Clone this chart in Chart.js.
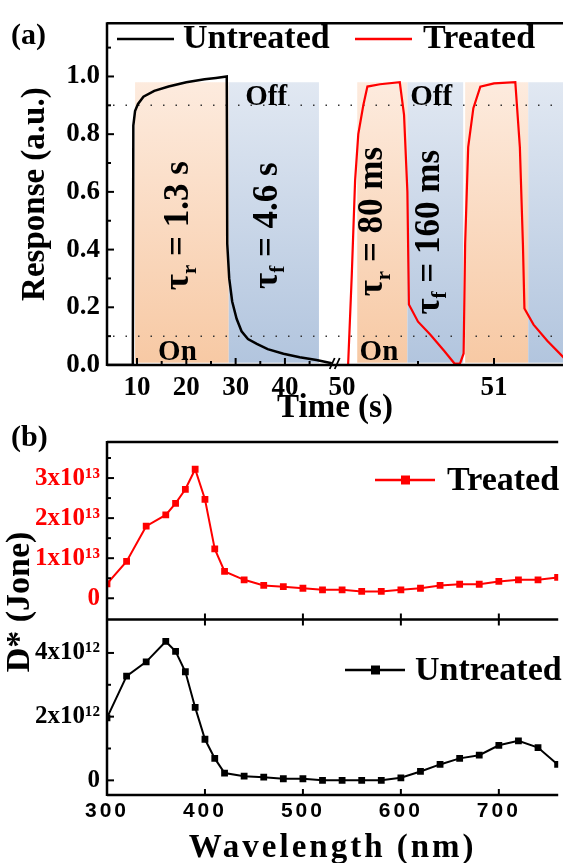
<!DOCTYPE html>
<html>
<head>
<meta charset="utf-8">
<script src="https://cdn.jsdelivr.net/npm/chart.js@4.4.1/dist/chart.umd.min.js"></script>
<style>
  html, body { margin: 0; padding: 0; background: #fff; }
  body { width: 563px; height: 863px; position: relative; overflow: hidden; }
  canvas { position: absolute; left: 0; }
  #chartA { top: 0; }
  #chartB { top: 420px; }
</style>
</head>
<body>
<canvas id="chartA" width="563" height="428"></canvas>
<canvas id="chartB" width="563" height="448"></canvas>
<script>
const SERIF = "'Liberation Serif', 'Times New Roman', serif";
const SANS = "'Liberation Sans', Arial, sans-serif";
Chart.defaults.font.family = SERIF;
Chart.defaults.color = '#000';

// ---- (a) transient photoresponse ----
const untreatedTime = [3.9, 9.15, 9.25, 9.6, 10.2, 11.3, 13.5, 16.4, 20.0, 23.7, 26.0, 28.2, 28.3, 28.7, 29.3, 30.2, 31.2, 32.5, 34.3, 36.5, 39.7, 43.0, 46.4, 49.5];
const untreatedResp = [0, 0, 0.83, 0.88, 0.905, 0.93, 0.95, 0.965, 0.98, 0.99, 0.995, 1.0, 0.42, 0.30, 0.22, 0.16, 0.117, 0.09, 0.073, 0.055, 0.039, 0.027, 0.017, 0.006];
const treatedTime = [50.0, 50.04, 50.064, 50.086, 50.107, 50.14, 50.167, 50.25, 50.38, 50.408, 50.43, 50.44, 50.50, 50.58, 50.67, 50.74, 50.776, 50.80, 50.81, 50.83, 50.864, 50.91, 51.0, 51.14, 51.17, 51.19, 51.20, 51.26, 51.35, 51.46];
const treatedResp = [0, 0, 0.31, 0.64, 0.80, 0.90, 0.965, 0.973, 0.98, 0.867, 0.60, 0.21, 0.15, 0.106, 0.05, 0.005, 0.005, 0.04, 0.42, 0.755, 0.89, 0.965, 0.976, 0.98, 0.755, 0.42, 0.196, 0.14, 0.084, 0.025];
const onIntervals = [[9.6, 28.6], [50.10, 50.43], [50.81, 51.225]];
const offIntervals = [[28.6, 46.9], [50.43, 50.797], [51.225, 51.46]];
const timeTicks = [10, 20, 30, 40, 50, 51];
const respTicks = [0, 0.2, 0.4, 0.6, 0.8, 1.0];

// ---- (b) detectivity spectra ----
const wavelength = [300, 320, 340, 360, 370, 380, 390, 400, 410, 420, 440, 460, 480, 500, 520, 540, 560, 580, 600, 620, 640, 660, 680, 700, 720, 740, 760];
const treatedD13 = [0.36, 0.92, 1.80, 2.08, 2.37, 2.72, 3.22, 2.47, 1.23, 0.67, 0.46, 0.32, 0.29, 0.25, 0.21, 0.21, 0.17, 0.17, 0.21, 0.25, 0.32, 0.35, 0.35, 0.42, 0.46, 0.46, 0.52];
const untreatedD12 = [1.96, 3.27, 3.72, 4.36, 4.05, 3.41, 2.29, 1.29, 0.69, 0.23, 0.13, 0.10, 0.05, 0.05, 0, 0, 0, 0, 0.08, 0.28, 0.50, 0.69, 0.79, 1.10, 1.24, 1.03, 0.50];
const wlTicks = [300, 400, 500, 600, 700];
const treatedTicks = [0, 1, 2, 3];
const untreatedTicks = [0, 2, 4];

// broken time axis: the right part (50-51.5 s) is stretched
const BREAK50 = 51.58, STRETCH = 30.83;
const axisX = t => (t < 50 ? t : BREAK50 + (t - 50) * STRETCH);

function line(ctx, x0, y0, x1, y1) {
  ctx.beginPath(); ctx.moveTo(x0, y0); ctx.lineTo(x1, y1); ctx.stroke();
}

function rotLabel(ctx, cx, cy, sub, rest, size) {
  const big = `bold ${size}px ${SERIF}`, small = `bold ${Math.round(size * 0.6)}px ${SERIF}`;
  ctx.save();
  ctx.translate(cx, cy);
  ctx.rotate(-Math.PI / 2);
  ctx.fillStyle = '#000';
  ctx.textAlign = 'left';
  ctx.textBaseline = 'alphabetic';
  ctx.font = big; const wT = ctx.measureText('τ').width, wR = ctx.measureText(rest).width;
  ctx.font = small; const wS = ctx.measureText(sub).width;
  let px = -(wT + wS + wR) / 2;
  const base = size * 0.3;
  ctx.font = big; ctx.fillText('τ', px, base); px += wT;
  ctx.font = small; ctx.fillText(sub, px, base + size * 0.22); px += wS;
  ctx.font = big; ctx.fillText(rest, px, base);
  ctx.restore();
}

const panelA = {
  id: 'panelA',
  beforeDatasetsDraw(chart) {
    const { ctx, chartArea: area, scales: { x, y } } = chart;
    const top = y.getPixelForValue(0.98), bot = y.getPixelForValue(0.008);
    const band = (t0, t1, c0, c1) => {
      const x0 = x.getPixelForValue(axisX(t0));
      const x1 = Math.min(x.getPixelForValue(axisX(t1)), area.right);
      const g = ctx.createLinearGradient(0, top, 0, bot);
      g.addColorStop(0, c0); g.addColorStop(1, c1);
      ctx.fillStyle = g;
      ctx.fillRect(x0, top, x1 - x0, bot - top);
    };
    ctx.save();
    onIntervals.forEach(([a, b]) => band(a, b, '#fdebde', '#f7c9a4'));
    offIntervals.forEach(([a, b]) => band(a, b, '#e1e8f2', '#b2c5de'));
    // 10 % / 90 % guide lines
    ctx.strokeStyle = '#333';
    ctx.lineWidth = 1.5;
    ctx.setLineDash([1.5, 11]);
    [0.1, 0.9].forEach(v => {
      const py = y.getPixelForValue(v);
      line(ctx, area.left + 6, py, area.right, py);
    });
    ctx.restore();
  },
  afterDraw(chart) {
    const { ctx, chartArea: area, scales: { x, y } } = chart;
    ctx.save();
    ctx.strokeStyle = '#000';
    ctx.fillStyle = '#000';
    ctx.lineWidth = 2.5;
    line(ctx, area.left, area.top, area.right, area.top);
    line(ctx, area.left, area.top - 1, area.left, area.bottom + 1);
    line(ctx, area.left, area.bottom, area.right, area.bottom);
    ctx.lineWidth = 2;
    // inward ticks
    for (let v = 0; v <= 1.15; v += 0.1) {
      const py = y.getPixelForValue(v);
      const major = Math.round(v * 10) % 2 === 0;
      line(ctx, area.left, py, area.left + (major ? 7 : 4), py);
    }
    [10, 20, 30, 40, 51].forEach(t => {
      const px = x.getPixelForValue(axisX(t));
      line(ctx, px, area.bottom, px, area.bottom - 7);
    });
    [15, 25, 35, 45, 50.5].forEach(t => {
      const px = x.getPixelForValue(axisX(t));
      line(ctx, px, area.bottom, px, area.bottom - 4);
    });
    // axis break mark
    const bx = x.getPixelForValue(50.5);
    ctx.lineWidth = 1.8;
    line(ctx, bx - 7, area.bottom + 4, bx - 2, area.bottom - 7);
    line(ctx, bx - 2, area.bottom + 4, bx + 3, area.bottom - 7);

    // on / off labels
    ctx.font = `bold 29px ${SERIF}`;
    ctx.textAlign = 'center';
    ctx.textBaseline = 'alphabetic';
    [[18.2, 'On'], [50.243, 'On']].forEach(([t, s]) => ctx.fillText(s, x.getPixelForValue(axisX(t)), y.getPixelForValue(0.017)));
    [[36.2, 'Off'], [50.586, 'Off']].forEach(([t, s]) => ctx.fillText(s, x.getPixelForValue(axisX(t)), y.getPixelForValue(0.9)));

    rotLabel(ctx, x.getPixelForValue(axisX(18.3)), y.getPixelForValue(0.483), 'r', ' = 1.3 s', 35);
    rotLabel(ctx, x.getPixelForValue(axisX(36.2)), y.getPixelForValue(0.483), 'f', ' = 4.6 s', 35);
    rotLabel(ctx, x.getPixelForValue(axisX(50.197)), y.getPixelForValue(0.497), 'r', ' = 80 ms', 35);
    rotLabel(ctx, x.getPixelForValue(axisX(50.566)), y.getPixelForValue(0.46), 'f', ' = 160 ms', 35);

    // legend
    ctx.textAlign = 'left';
    ctx.font = `bold 34px ${SERIF}`;
    ctx.lineWidth = 2.5;
    chart.data.datasets.forEach((ds, i) => {
      const lx = [117, 355][i], tx = [183, 423][i];
      ctx.strokeStyle = ds.borderColor;
      line(ctx, lx, 39, lx + 57, 39);
      ctx.fillStyle = '#000';
      ctx.fillText(ds.label, tx, 48);
    });

    ctx.font = `bold 30px ${SERIF}`;
    ctx.fillText('(a)', 11, 44);
    ctx.restore();
  }
};

new Chart(document.getElementById('chartA'), {
  type: 'line',
  data: {
    datasets: [{
      label: 'Untreated',
      data: untreatedTime.map((t, i) => ({ x: axisX(t), y: untreatedResp[i] })),
      borderColor: '#000000',
      borderWidth: 2.5,
      pointRadius: 0,
      tension: 0
    }, {
      label: 'Treated',
      data: treatedTime.map((t, i) => ({ x: axisX(t), y: treatedResp[i] })),
      borderColor: '#ff0000',
      borderWidth: 2.2,
      pointRadius: 0,
      tension: 0
    }]
  },
  options: {
    responsive: false,
    animation: false,
    layout: { padding: { top: 12, left: 0, right: 0, bottom: 0 } },
    plugins: { legend: { display: false }, tooltip: { enabled: false } },
    scales: {
      x: {
        type: 'linear',
        min: 3.91,
        max: 96.4,
        grid: { display: false, drawTicks: false },
        border: { display: false },
        afterBuildTicks: s => { s.ticks = timeTicks.map(t => ({ value: axisX(t) })); },
        afterFit: s => { s.height = 63; },
        ticks: {
          autoSkip: false, maxRotation: 0, padding: 7,
          font: { size: 27, weight: 'bold' },
          callback: (v, i) => String(timeTicks[i])
        },
        title: { display: true, text: 'Time (s)', font: { size: 33, weight: 'bold' }, padding: { top: 0, bottom: 0 } }
      },
      y: {
        min: 0,
        max: 1.1846,
        grid: { display: false, drawTicks: false },
        border: { display: false },
        afterBuildTicks: s => { s.ticks = respTicks.map(v => ({ value: v })); },
        afterFit: s => { s.width = 107; },
        ticks: { padding: 7, font: { size: 27, weight: 'bold' }, callback: v => v.toFixed(1) },
        title: { display: true, text: 'Response (a.u.)', font: { size: 33, weight: 'bold' }, padding: { top: 16, bottom: 0 } }
      }
    }
  },
  plugins: [panelA]
});

const panelB = {
  id: 'panelB',
  beforeDraw(chart) {
    // letter-spaced wavelength axis, like the original
    const sx = chart.scales.x;
    if (sx._spaced) return;
    const ctx = chart.ctx;
    const wrap = name => {
      const fn = sx[name].bind(sx);
      sx[name] = (...args) => { ctx.letterSpacing = '3px'; fn(...args); ctx.letterSpacing = '0px'; };
    };
    wrap('drawLabels');
    wrap('drawTitle');
    sx._spaced = true;
  },
  afterDraw(chart) {
    const { ctx, chartArea: area, scales: { x, yT, yU } } = chart;
    ctx.save();
    ctx.strokeStyle = '#000';
    ctx.fillStyle = '#000';
    ctx.lineWidth = 2.5;
    line(ctx, area.left, area.top, area.right, area.top);
    line(ctx, area.left, yU.top, area.right, yU.top);
    line(ctx, area.left, area.bottom, area.right, area.bottom);
    line(ctx, area.left, area.top - 1, area.left, area.bottom + 1);
    ctx.lineWidth = 2;
    for (let v = 0; v <= 3.6; v += 0.5) {
      const py = yT.getPixelForValue(v);
      line(ctx, area.left, py, area.left + (Number.isInteger(v) ? 7 : 4), py);
    }
    for (let v = 0; v <= 4; v += 1) {
      const py = yU.getPixelForValue(v);
      line(ctx, area.left, py, area.left + (v % 2 === 0 ? 7 : 4), py);
    }
    [400, 500, 600, 700].forEach(w => {
      const px = x.getPixelForValue(w);
      line(ctx, px, area.bottom, px, area.bottom - 6);
      line(ctx, px, yU.top - 6, px, yU.top + 6);
    });

    // legends
    ctx.font = `bold 34px ${SERIF}`;
    ctx.textAlign = 'left';
    ctx.textBaseline = 'alphabetic';
    chart.data.datasets.forEach((ds, i) => {
      const lx = [375, 345][i], ly = [60, 250][i], tx = [447, 415][i];
      ctx.strokeStyle = ds.borderColor;
      ctx.fillStyle = ds.borderColor;
      ctx.lineWidth = 2.5;
      line(ctx, lx, ly, lx + 60, ly);
      ctx.fillRect(lx + 26, ly - 4.5, 9, 9);
      ctx.fillStyle = '#000';
      ctx.fillText(ds.label, tx, ly + 10);
    });

    ctx.font = `bold 30px ${SERIF}`;
    ctx.fillText('(b)', 11, 26);

    ctx.translate(20, 182);
    ctx.rotate(-Math.PI / 2);
    ctx.textAlign = 'center';
    ctx.textBaseline = 'middle';
    ctx.font = `bold 34px ${SERIF}`;
    ctx.fillText('D* (Jone)', 0, 0);
    ctx.restore();
  }
};

new Chart(document.getElementById('chartB'), {
  type: 'line',
  data: {
    datasets: [{
      label: 'Treated',
      data: wavelength.map((w, i) => ({ x: w, y: treatedD13[i] })),
      yAxisID: 'yT',
      borderColor: '#ff0000',
      backgroundColor: '#ff0000',
      borderWidth: 2,
      pointStyle: 'rect',
      pointRadius: 4.8,
      pointBorderWidth: 0,
      tension: 0
    }, {
      label: 'Untreated',
      data: wavelength.map((w, i) => ({ x: w, y: untreatedD12[i] })),
      yAxisID: 'yU',
      borderColor: '#000000',
      backgroundColor: '#000000',
      borderWidth: 2,
      pointStyle: 'rect',
      pointRadius: 4.8,
      pointBorderWidth: 0,
      tension: 0
    }]
  },
  options: {
    responsive: false,
    animation: false,
    layout: { padding: { top: 21, left: 0, right: 0, bottom: 0 } },
    plugins: { legend: { display: false }, tooltip: { enabled: false } },
    scales: {
      x: {
        type: 'linear',
        min: 300,
        max: 760.6,
        grid: { display: false, drawTicks: false },
        border: { display: false },
        afterBuildTicks: s => { s.ticks = wlTicks.map(v => ({ value: v })); },
        afterFit: s => { s.height = 73; },
        ticks: { autoSkip: false, maxRotation: 0, padding: 4, font: { family: SANS, size: 21, weight: 'bold' }, callback: v => String(v) },
        title: { display: true, text: 'Wavelength (nm)', font: { size: 33, weight: 'bold' }, padding: { top: 0, bottom: 0 } }
      },
      yT: {
        type: 'linear',
        position: 'left',
        stack: 'detectivity',
        stackWeight: 178,
        weight: 2,
        min: -0.53,
        max: 3.9,
        grid: { display: false, drawTicks: false },
        border: { display: false },
        afterBuildTicks: s => { s.ticks = treatedTicks.map(v => ({ value: v })); },
        afterFit: s => { s.width = 107; },
        ticks: { padding: 7, color: '#ff0000', font: { size: 25, weight: 'bold' }, callback: v => (v === 0 ? '0' : `${v}x10¹³`) }
      },
      yU: {
        type: 'linear',
        position: 'left',
        stack: 'detectivity',
        stackWeight: 176,
        weight: 1,
        min: -0.46,
        max: 5.05,
        grid: { display: false, drawTicks: false },
        border: { display: false },
        afterBuildTicks: s => { s.ticks = untreatedTicks.map(v => ({ value: v })); },
        afterFit: s => { s.width = 107; },
        ticks: { padding: 7, font: { size: 25, weight: 'bold' }, callback: v => (v === 0 ? '0' : `${v}x10¹²`) }
      }
    }
  },
  plugins: [panelB]
});
</script>
</body>
</html>
